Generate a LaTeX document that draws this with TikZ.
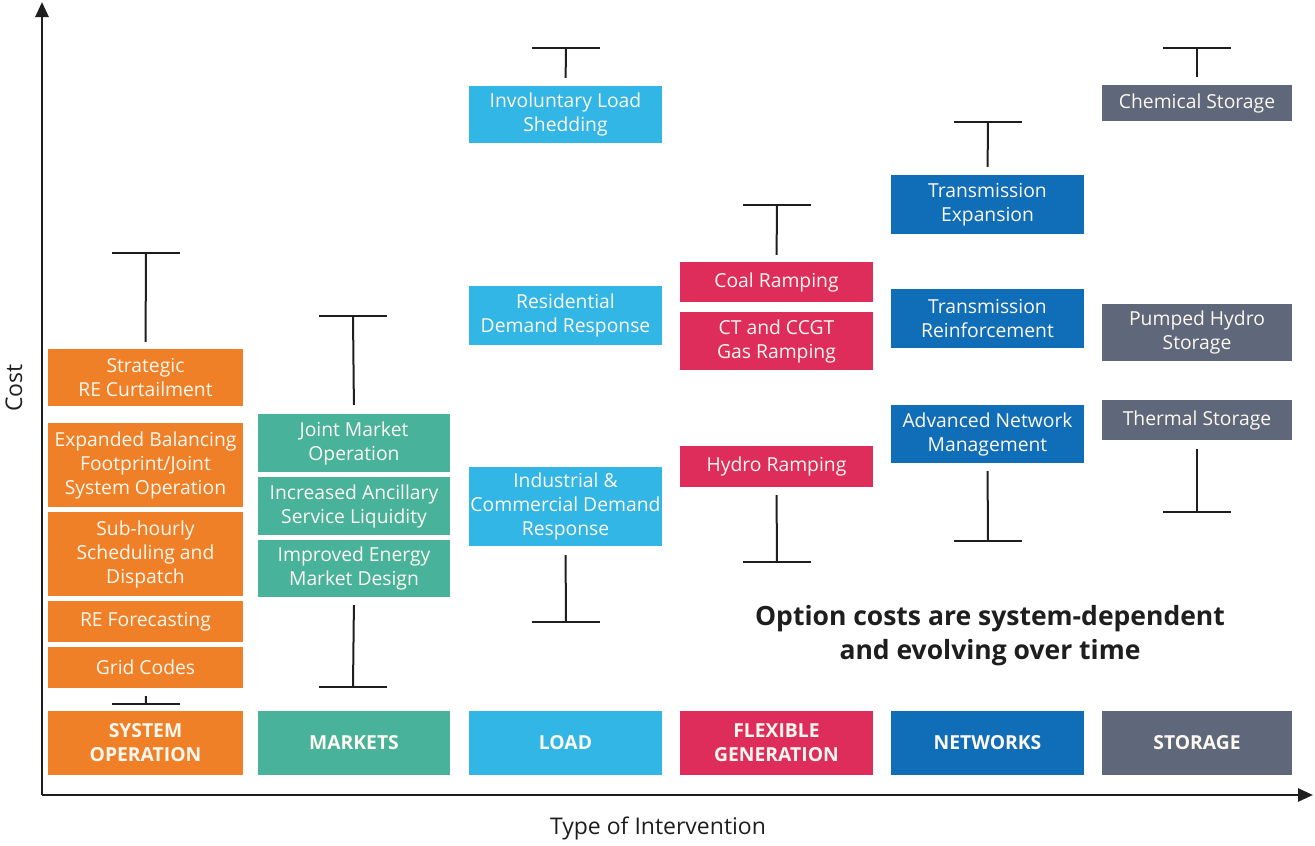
\documentclass[tikz,border=0pt]{standalone}
\usepackage{fontspec}
\setmainfont{Open Sans}
\usetikzlibrary{arrows.meta}
\definecolor{cOr}{HTML}{F08028}
\definecolor{cTe}{HTML}{48B29B}
\definecolor{cLb}{HTML}{32B6E6}
\definecolor{cCr}{HTML}{DE2D5A}
\definecolor{cBl}{HTML}{106EB9}
\definecolor{cSl}{HTML}{5E687A}
\definecolor{txtw}{HTML}{FDF8F0}
\definecolor{ink}{HTML}{1E1E1E}
\newcommand\bx[7]{\node[box, fill=#6, minimum width={(#4-#2)*1pt}, minimum height={(#5-#3)*1pt}] (#1) at ({(#2+#4)/2},{(#3+#5)/2}) {#7};}
\begin{document}
\begin{tikzpicture}[x=1pt,y=-1pt,
  box/.style={rectangle, inner sep=0pt, text=txtw, align=center, font=\fontsize{19.3}{24}\selectfont},
  whisk/.style={line width=2pt, draw=ink},
  axis/.style={line width=2.6pt, draw=ink, -{Triangle[length=15pt,width=13pt]}}]
\useasboundingbox (0,0) rectangle (1315,846);
% axes
\coordinate (O) at (42,795);
\coordinate (Ytop) at (42,2);
\coordinate (Xend) at (1313,795);
\draw[axis] (O) -- (Ytop);
\draw[axis] (O) -- (Xend);
\node[rotate=90, text=ink, font=\fontsize{23}{26}\selectfont] (ylab) at (14,388) {Cost};
\node[text=ink, font=\fontsize{23}{26}\selectfont] (xlab) at (658,828) {Type of Intervention};
% column 1: system operation
\bx{strat}{48}{349}{243}{406}{cOr}{Strategic\\RE Curtailment}
\bx{expand}{48}{423}{243}{507}{cOr}{Expanded Balancing\\Footprint/Joint\\System Operation}
\bx{subh}{48}{512}{243}{596}{cOr}{Sub-hourly\\Scheduling and\\Dispatch}
\bx{refc}{48}{601}{243}{642}{cOr}{RE Forecasting}
\bx{grid}{48}{647}{243}{688}{cOr}{Grid Codes}
\bx{sysop}{48}{711}{243}{775}{cOr}{\bfseries SYSTEM\\\bfseries OPERATION}
% column 2: markets
\bx{joint}{258}{414}{450}{472}{cTe}{Joint Market\\Operation}
\bx{ancil}{258}{477}{450}{535}{cTe}{Increased Ancillary\\Service Liquidity}
\bx{energy}{258}{540}{450}{597}{cTe}{Improved Energy\\Market Design}
\bx{markets}{258}{711}{450}{775}{cTe}{\bfseries MARKETS}
% column 3: load
\bx{invol}{469}{86}{662}{143}{cLb}{Involuntary Load\\Shedding}
\bx{resid}{469}{286}{662}{345}{cLb}{Residential\\Demand Response}
\bx{indus}{469}{467}{662}{546}{cLb}{Industrial \&\\Commercial Demand\\Response}
\bx{load}{469}{711}{662}{775}{cLb}{\bfseries LOAD}
% column 4: flexible generation
\bx{coal}{680}{262}{873}{302}{cCr}{Coal Ramping}
\bx{ccgt}{680}{312}{873}{370}{cCr}{CT and CCGT\\Gas Ramping}
\bx{hydro}{680}{446}{873}{487}{cCr}{Hydro Ramping}
\bx{flex}{680}{711}{873}{775}{cCr}{\bfseries FLEXIBLE\\\bfseries GENERATION}
% column 5: networks
\bx{texp}{891}{175}{1084}{234}{cBl}{Transmission\\Expansion}
\bx{treinf}{891}{289}{1084}{348}{cBl}{Transmission\\Reinforcement}
\bx{adv}{891}{405}{1084}{463}{cBl}{Advanced Network\\Management}
\bx{netw}{891}{711}{1084}{775}{cBl}{\bfseries NETWORKS}
% column 6: storage
\bx{chem}{1102}{85}{1292}{121}{cSl}{Chemical Storage}
\bx{pump}{1102}{304}{1292}{361}{cSl}{Pumped Hydro\\Storage}
\bx{therm}{1102}{400}{1292}{440}{cSl}{Thermal Storage}
\bx{stor}{1102}{711}{1292}{775}{cSl}{\bfseries STORAGE}
% whiskers: top
\coordinate (w1t) at (146,253);
\coordinate (w2t) at (353,316);
\coordinate (w3t) at (566,48);
\coordinate (w4t) at (777,205);
\coordinate (w5t) at (988,122);
\coordinate (w6t) at (1197,48);
% whiskers: bottom
\coordinate (w1b) at (146,704);
\coordinate (w2b) at (353,687);
\coordinate (w3b) at (566,622);
\coordinate (w4b) at (777,562);
\coordinate (w5b) at (988,541);
\coordinate (w6b) at (1197,512);
\foreach \c in {w1t,w2t,w3t,w4t,w5t,w6t,w1b,w2b,w3b,w4b,w5b,w6b}
  \draw[whisk] ([xshift=-34pt]\c) -- ([xshift=34pt]\c);
\draw[whisk, shorten >=7pt] (w1t) -- (strat.north);
\draw[whisk, shorten >=9pt] (w2t) -- (joint.north);
\draw[whisk, shorten >=8pt] (w3t) -- (invol.north);
\draw[whisk, shorten >=7pt] (w4t) -- (coal.north);
\draw[whisk, shorten >=8pt] (w5t) -- (texp.north);
\draw[whisk, shorten >=8pt] (w6t) -- (chem.north);
\draw[whisk, shorten >=8pt] (w1b) -- (grid.south);
\draw[whisk, shorten >=8pt] (w2b) -- (energy.south);
\draw[whisk, shorten >=9pt] (w3b) -- (indus.south);
\draw[whisk, shorten >=8pt] (w4b) -- (hydro.south);
\draw[whisk, shorten >=8pt] (w5b) -- (adv.south);
\draw[whisk, shorten >=9pt] (w6b) -- (therm.south);
% note
\node[text=ink, align=center, font=\fontsize{26.5}{34}\selectfont\bfseries] (note) at (990,636) {Option costs are system-dependent\\and evolving over time};
\end{tikzpicture}
\end{document}
